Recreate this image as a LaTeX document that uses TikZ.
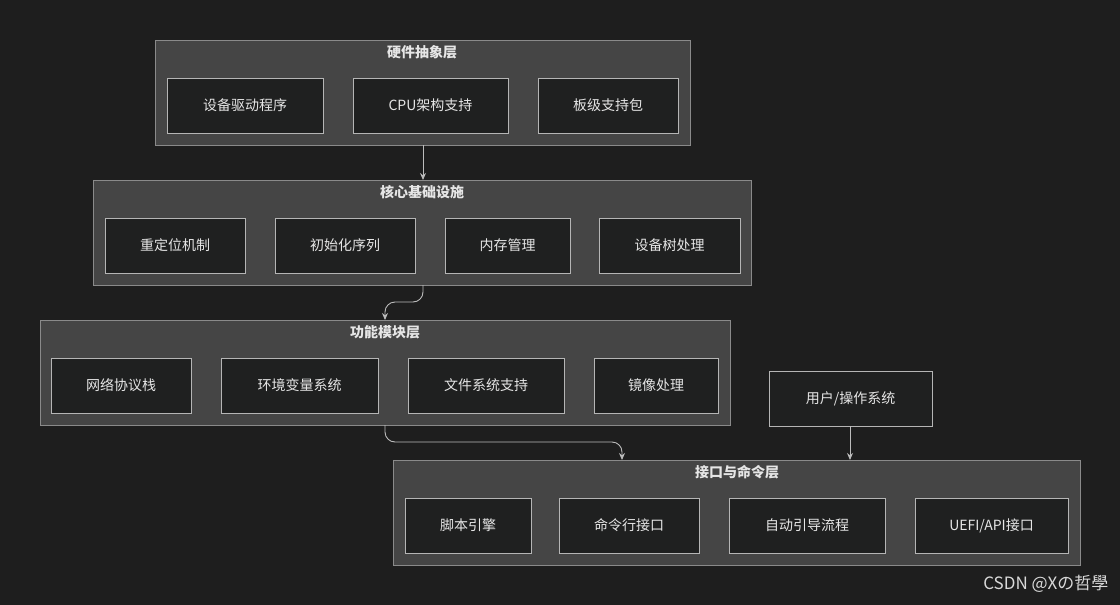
\documentclass[tikz,border=0pt]{standalone}
\usepackage{fontspec}
\setmainfont{Noto Sans CJK SC}
\usetikzlibrary{arrows.meta}
\definecolor{bg}{HTML}{1E1E1E}
\definecolor{clfill}{HTML}{454545}
\definecolor{clline}{HTML}{8A8A8A}
\definecolor{ndfill}{HTML}{1F2020}
\definecolor{ndline}{HTML}{B5B5B5}
\definecolor{txt}{HTML}{E6E6E6}
\tikzset{x=1pt,y=-1pt,
 cluster/.style={draw=clline,fill=clfill,line width=0.8pt},
 box/.style={draw=ndline,fill=ndfill,line width=0.9pt},
 lbl/.style={text=txt,font=\fontsize{14}{16}\selectfont},
 ttl/.style={text=txt,font=\fontsize{14}{16}\selectfont\bfseries},
 conn/.style={draw=ndline!90,line width=0.9pt,-{Stealth[length=7pt,width=6pt]},rounded corners=10pt}}
\newcommand\bx[6]{\draw[box] (#2,#3) rectangle (#4,#5); \node[lbl] (#1) at ({(#2+#4)/2},{(#3+#5)/2}) {#6};}
\begin{document}
\begin{tikzpicture}
\fill[bg] (0,0) rectangle (1120,605);
\useasboundingbox (0,0) rectangle (1120,605);
% clusters
\draw[cluster] (155,40) rectangle (690,145); \node[ttl] (t1) at (422,52) {硬件抽象层};
\draw[cluster] (93,180) rectangle (751,285); \node[ttl] (t2) at (422,192) {核心基础设施};
\draw[cluster] (40,320) rectangle (730,425); \node[ttl] (t3) at (385,332) {功能模块层};
\draw[cluster] (393,460) rectangle (1080,565); \node[ttl] (t4) at (737,472) {接口与命令层};
\bx{a1}{167}{78}{323}{133}{设备驱动程序}
\bx{a2}{353}{78}{508}{133}{CPU架构支持}
\bx{a3}{538}{78}{678}{133}{板级支持包}
\bx{b1}{105}{218}{245}{273}{重定位机制}
\bx{b2}{275}{218}{415}{273}{初始化序列}
\bx{b3}{445}{218}{570}{273}{内存管理}
\bx{b4}{599}{218}{740}{273}{设备树处理}
\bx{c1}{51}{358}{191}{413}{网络协议栈}
\bx{c2}{221}{358}{378}{413}{环境变量系统}
\bx{c3}{408}{358}{564}{413}{文件系统支持}
\bx{c4}{594}{358}{718}{413}{镜像处理}
\bx{d1}{405}{498}{531}{553}{脚本引擎}
\bx{d2}{559}{498}{699}{553}{命令行接口}
\bx{d3}{729}{498}{885}{553}{自动引导流程}
\bx{d4}{915}{498}{1068}{553}{UEFI/API接口}
\bx{u}{769}{371}{932}{426}{用户/操作系统}
\coordinate (c1b) at (423,145); \coordinate (c2t) at (423,180);
\coordinate (c2b) at (423,285); \coordinate (c3t) at (385,320);
\coordinate (c3b) at (385,425); \coordinate (c4t) at (622,460);
\coordinate (ub) at (850,426); \coordinate (c4u) at (850,460);
\draw[conn] (c1b) -- (c2t);
\draw[conn] (c2b) -- (423,302) -- (385,302) -- (c3t);
\draw[conn] (c3b) -- (385,442) -- (622,442) -- (c4t);
\draw[conn] (ub) -- (c4u);
\node[text=white!85!black,font=\fontsize{17}{19}\selectfont,anchor=east] (wm) at (1112,584) {CSDN @Xの哲學};
\end{tikzpicture}
\end{document}
